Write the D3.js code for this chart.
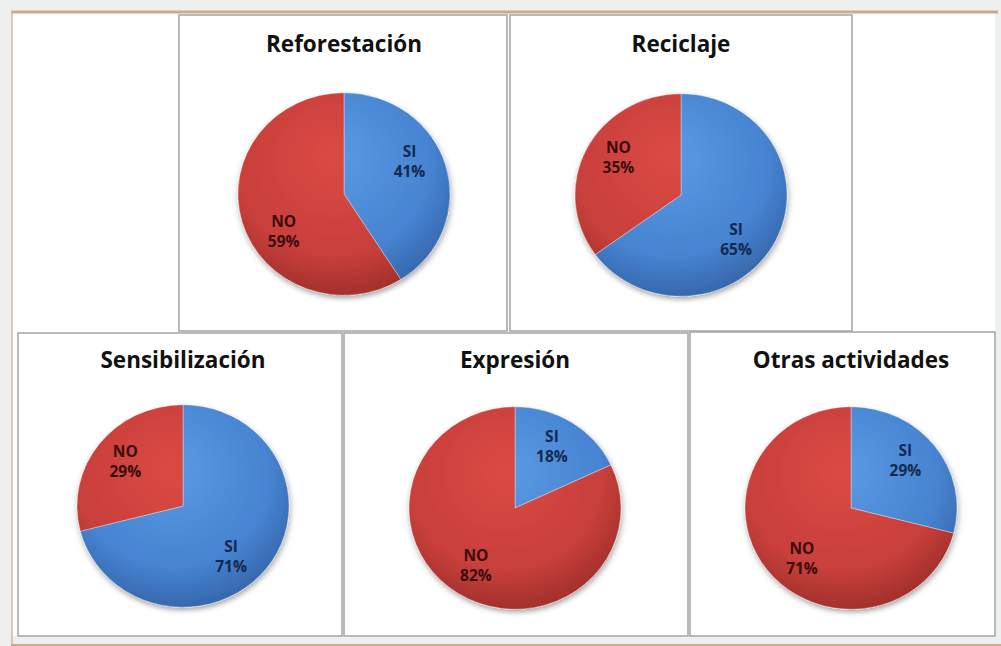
<!DOCTYPE html>
<html>
<head>
<meta charset="utf-8">
<script src="https://cdn.jsdelivr.net/npm/d3@7"></script>
<style>
  html, body { margin: 0; padding: 0; background: #eef0f0; }
  svg { display: block; }
</style>
</head>
<body>
<svg id="chart" width="1001" height="646"></svg>
<script>
// ---- data ----
const titles = ["Reforestación", "Reciclaje", "Sensibilización", "Expresión", "Otras actividades"];
const categories = ["SI", "NO"];
const siValues = [41, 65, 71, 18, 29];
const noValues = [59, 35, 29, 82, 71];

// ---- layout ----
const panels = [
  {x: 179, y: 15,  w: 328, h: 316, cx: 344, cy: 194, ty: 52},
  {x: 510, y: 15,  w: 342, h: 316, cx: 681, cy: 195, ty: 52},
  {x: 18,  y: 333, w: 324, h: 303, cx: 183, cy: 506, ty: 368},
  {x: 344, y: 333, w: 344, h: 303, cx: 515, cy: 508, ty: 368},
  {x: 690, y: 332, w: 305, h: 304, cx: 851, cy: 508, ty: 368}
];
// label angle adjustments (degrees) per chart: [SI, NO]
const labelShift = [[-10, -18], [14, 4], [11, 0], [-2, 0], [-4, -10]];
const R = 106, YS = 0.955, LABEL_R = 73;
const FONT = "'Open Sans', 'Noto Sans', sans-serif";

const svg = d3.select("#chart");
const defs = svg.append("defs");

function grad(id, c1, c2, c3) {
  const g = defs.append("radialGradient").attr("id", id)
    .attr("gradientUnits", "userSpaceOnUse")
    .attr("cx", -10).attr("cy", -30).attr("r", 140)
    .attr("fx", -10).attr("fy", -40);
  g.append("stop").attr("offset", "0%").attr("stop-color", c1);
  g.append("stop").attr("offset", "70%").attr("stop-color", c2);
  g.append("stop").attr("offset", "100%").attr("stop-color", c3);
}
grad("gBlue", "#5a9ae4", "#4683d0", "#3566ab");
grad("gRed", "#da4a43", "#c83f3b", "#a02f2b");

const f = defs.append("filter").attr("id", "shadow")
  .attr("x", "-20%").attr("y", "-20%").attr("width", "140%").attr("height", "150%");
f.append("feDropShadow").attr("dx", 1).attr("dy", 3).attr("stdDeviation", 3)
  .attr("flood-color", "#000").attr("flood-opacity", 0.35);

// background frame
svg.append("rect").attr("x", 12).attr("y", 12).attr("width", 983).attr("height", 624).attr("fill", "#ffffff");
svg.append("line").attr("x1", 11).attr("x2", 998).attr("y1", 12).attr("y2", 12)
  .attr("stroke", "#cfa98b").attr("stroke-width", 3);
svg.append("line").attr("x1", 12).attr("x2", 12).attr("y1", 12).attr("y2", 646)
  .attr("stroke", "#d9b79c").attr("stroke-width", 1.5);
svg.append("line").attr("x1", 11).attr("x2", 1001).attr("y1", 645).attr("y2", 645)
  .attr("stroke", "#cfa98b").attr("stroke-width", 2);

const color = d3.scaleOrdinal().domain(categories).range(["url(#gBlue)", "url(#gRed)"]);
const textColor = d3.scaleOrdinal().domain(categories).range(["#13294d", "#3a0d0d"]);

const pie = d3.pie().sort(null).value(d => d.value);
const arc = d3.arc().innerRadius(0).outerRadius(R);
const labelArc = d3.arc().innerRadius(LABEL_R).outerRadius(LABEL_R);

titles.forEach((title, i) => {
  const p = panels[i];
  const g = svg.append("g");
  g.append("rect").attr("x", p.x).attr("y", p.y).attr("width", p.w).attr("height", p.h)
    .attr("fill", "#ffffff").attr("stroke", "#a9a9a9").attr("stroke-width", 1.6);

  g.append("text").attr("x", p.cx).attr("y", p.ty)
    .attr("text-anchor", "middle")
    .attr("font-family", FONT)
    .attr("font-weight", "bold").attr("font-size", 22.5)
    .attr("fill", "#111").text(title);

  const data = categories.map((c, k) => ({cat: c, value: k === 0 ? siValues[i] : noValues[i]}));
  const arcs = pie(data);

  const pg = g.append("g").attr("transform", `translate(${p.cx},${p.cy}) scale(1,${YS})`);
  pg.append("g").attr("filter", "url(#shadow)")
    .selectAll("path").data(arcs).join("path")
    .attr("d", arc)
    .attr("fill", d => color(d.data.cat))
    .attr("stroke", "rgba(255,255,255,0.35)").attr("stroke-width", 1);

  const lg = g.append("g").attr("transform", `translate(${p.cx},${p.cy})`);
  arcs.forEach((a, k) => {
    const sh = labelShift[i][k] * Math.PI / 180;
    const [lx, ly] = labelArc.centroid({startAngle: a.startAngle + sh, endAngle: a.endAngle + sh});
    const t = lg.append("text")
      .attr("x", lx).attr("y", ly * YS)
      .attr("text-anchor", "middle")
      .attr("font-family", FONT)
      .attr("font-weight", "bold").attr("font-size", 15.5)
      .attr("fill", textColor(a.data.cat));
    t.append("tspan").attr("x", lx).attr("dy", -6).text(a.data.cat);
    t.append("tspan").attr("x", lx).attr("dy", 20).text(a.data.value + "%");
  });
});
</script>
</body>
</html>
